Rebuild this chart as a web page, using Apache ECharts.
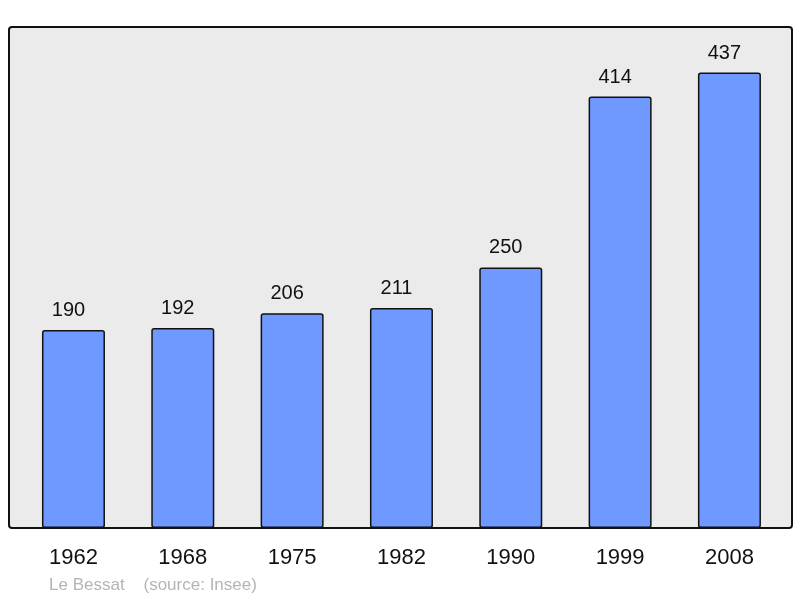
<!DOCTYPE html>
<html><head><meta charset="utf-8">
<script src="https://cdn.jsdelivr.net/npm/echarts@6/dist/echarts.min.js"></script>
<style>html,body{margin:0;padding:0;background:#fff}#c{width:800px;height:598px}</style>
</head><body><div id="c"></div>
<script>
const categories = ['1962','1968','1975','1982','1990','1999','2008'];
const population = [190,192,206,211,250,414,437];
const footerText = 'Le Bessat    (source: Insee)';

const chart = echarts.init(document.getElementById('c'));
chart.setOption({
  animation: false,
  graphic: [
    {type:'rect', z:-10, shape:{x:9,y:27,width:783,height:501,r:3},
     style:{fill:'#ebebeb',stroke:'#111',lineWidth:2}},
    {type:'text', left:49, top:576.5, style:{text:footerText, fill:'#b4b4b4', font:'17px "Liberation Sans", Arial, sans-serif'}}
  ],
  grid:{left:18.8, width:765.3, top:27, bottom:70, show:false},
  xAxis:{type:'category', data:categories, axisLine:{show:false}, axisTick:{show:false},
    axisLabel:{margin:19, color:'#111', fontSize:22, fontFamily:'"Liberation Sans", Arial, sans-serif'}},
  yAxis:{type:'value', min:0, max:480.7, show:false, splitLine:{show:false}},
  series:[{type:'bar', data:population, barWidth:63,
    itemStyle:{color:'#7099ff', borderColor:'#111', borderWidth:1.5, borderRadius:2},
    label:{show:true, position:'top', distance:9.5, offset:[-5,0], color:'#111', fontSize:20,
      fontFamily:'"Liberation Sans", Arial, sans-serif'}}]
});
</script></body></html>
